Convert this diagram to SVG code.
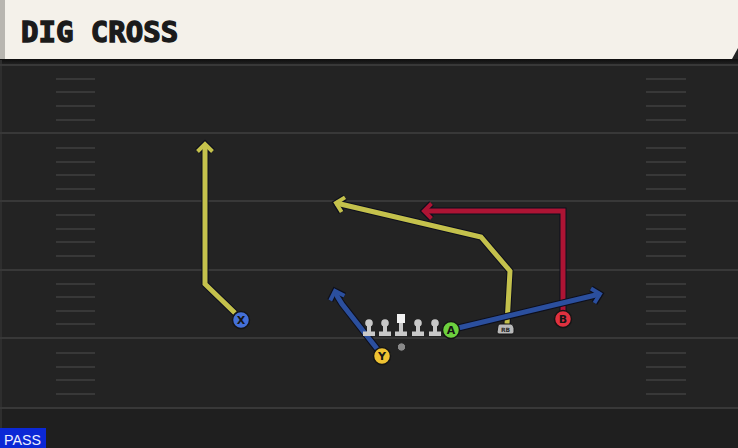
<svg xmlns="http://www.w3.org/2000/svg" width="738" height="448" viewBox="0 0 738 448">
<style>
.yard{stroke:#383838;stroke-width:2}
.hash{stroke:#383838;stroke-width:2}
.out{fill:none;stroke:#0d0f1c;stroke-width:7;stroke-linejoin:miter;stroke-linecap:butt}
.rt{fill:none;stroke-width:5;stroke-linejoin:miter;stroke-linecap:butt}
.yl{stroke:#c4c14c}
.rd{stroke:#ad1434}
.bl{stroke:#2b4f9e}
.pl{stroke:#151515;stroke-width:1.5}
.lbl{font-family:"DejaVu Sans",sans-serif;font-weight:bold;font-size:11px;fill:#151515;text-anchor:middle}
.ol{fill:#c9c9c9}
</style>
<defs>
<marker id="aK" viewBox="-12 -12 24 24" refX="0" refY="0" markerWidth="24" markerHeight="24" markerUnits="userSpaceOnUse" orient="auto"><path d="M-7.5,-7.5 L0,0 L-7.5,7.5" fill="none" stroke="#0d0f1c" stroke-width="6.5" stroke-linejoin="miter"/></marker>
<marker id="aY" viewBox="-12 -12 24 24" refX="0" refY="0" markerWidth="24" markerHeight="24" markerUnits="userSpaceOnUse" orient="auto"><path d="M-7.5,-7.5 L0,0 L-7.5,7.5" fill="none" stroke="#c4c14c" stroke-width="4" stroke-linejoin="miter"/></marker>
<marker id="aR" viewBox="-12 -12 24 24" refX="0" refY="0" markerWidth="24" markerHeight="24" markerUnits="userSpaceOnUse" orient="auto"><path d="M-7.5,-7.5 L0,0 L-7.5,7.5" fill="none" stroke="#ad1434" stroke-width="4" stroke-linejoin="miter"/></marker>
<marker id="aB" viewBox="-12 -12 24 24" refX="0" refY="0" markerWidth="24" markerHeight="24" markerUnits="userSpaceOnUse" orient="auto"><path d="M-7.5,-7.5 L0,0 L-7.5,7.5" fill="none" stroke="#2b4f9e" stroke-width="4" stroke-linejoin="miter"/></marker>
<linearGradient id="sh" x1="0" y1="0" x2="0" y2="1"><stop offset="0" stop-color="#0e0e0e"/><stop offset="1" stop-color="#242424"/></linearGradient>
</defs>

<!-- field -->
<rect x="0" y="0" width="738" height="448" fill="#232323"/>
<rect x="0" y="408" width="738" height="40" fill="#1f1f1f"/>
<rect x="0" y="59" width="738" height="6" fill="url(#sh)"/>
<line x1="1" y1="60" x2="1" y2="448" stroke="#2e2e2e" stroke-width="2"/>
<g id="yardlines">
<line class="yard" x1="0" y1="65" x2="738" y2="65"/>
<line class="yard" x1="0" y1="133" x2="738" y2="133"/>
<line class="yard" x1="0" y1="201" x2="738" y2="201"/>
<line class="yard" x1="0" y1="270" x2="738" y2="270"/>
<line class="yard" x1="0" y1="338" x2="738" y2="338"/>
<line class="yard" x1="0" y1="408" x2="738" y2="408"/>
</g>
<g id="hashes">
<path class="hash" d="M56,79H95M56,92H95M56,106H95M56,120H95M56,148H95M56,162H95M56,175H95M56,189H95M56,215H95M56,229H95M56,242H95M56,256H95M56,284H95M56,297H95M56,311H95M56,324H95M56,353H95M56,367H95M56,380H95M56,394H95"/>
<path class="hash" d="M646,79H686M646,92H686M646,106H686M646,120H686M646,148H686M646,162H686M646,175H686M646,189H686M646,215H686M646,229H686M646,242H686M646,256H686M646,284H686M646,297H686M646,311H686M646,324H686M646,353H686M646,367H686M646,380H686M646,394H686"/>
</g>

<!-- header -->
<g id="header">
<path d="M0,0H738V48L732,59H0Z" fill="#f4f1ea"/>
<rect x="0" y="0" width="5" height="59" fill="#b8b6b0"/>
<text x="21" y="42" font-family="DejaVu Sans Mono, monospace" font-weight="bold" font-size="29" fill="#1b1b1b" stroke="#1b1b1b" stroke-width="1.4" stroke-linejoin="miter">DIG CROSS</text>
</g>

<!-- connectors -->
<g id="routes">
<path class="out" d="M235,313 L205,284 L205,144" marker-end="url(#aK)"/>
<path class="rt yl" d="M235,313 L205,284 L205,144" marker-end="url(#aY)"/>
<path class="out" d="M507,324 L510,271 L481,237 L336,203" marker-end="url(#aK)"/>
<path class="rt yl" d="M507,324 L510,271 L481,237 L336,203" marker-end="url(#aY)"/>
<path class="out" d="M563,312 L563,211 L424,211" marker-end="url(#aK)"/>
<path class="rt rd" d="M563,312 L563,211 L424,211" marker-end="url(#aR)"/>
<path class="out" d="M378,350 L342,304 Q337,297 335,291" marker-end="url(#aK)"/>
<path class="rt bl" d="M378,350 L342,304 Q337,297 335,291" marker-end="url(#aB)"/>
<path class="out" d="M458,328 L600,294" marker-end="url(#aK)"/>
<path class="rt bl" d="M458,328 L600,294" marker-end="url(#aB)"/>
</g>

<!-- linemen -->
<g id="line">
<g id="lt"><circle class="ol" cx="369" cy="323" r="3.8"/><rect class="ol" x="367" y="323" width="4" height="10"/><rect class="ol" x="363" y="331.5" width="12" height="4.5"/></g>
<g id="lg"><circle class="ol" cx="385" cy="323" r="3.8"/><rect class="ol" x="383" y="323" width="4" height="10"/><rect class="ol" x="379" y="331.5" width="12" height="4.5"/></g>
<g id="c"><rect x="397" y="314" width="8" height="9" fill="#f2f2f2"/><rect class="ol" x="399" y="323" width="4" height="10"/><rect class="ol" x="395" y="331.5" width="12" height="4.5"/></g>
<g id="rg"><circle class="ol" cx="418" cy="323" r="3.8"/><rect class="ol" x="416" y="323" width="4" height="10"/><rect class="ol" x="412" y="331.5" width="12" height="4.5"/></g>
<g id="rt"><circle class="ol" cx="435" cy="323" r="3.8"/><rect class="ol" x="433" y="323" width="4" height="10"/><rect class="ol" x="429" y="331.5" width="12" height="4.5"/></g>
</g>
<g id="qb"><circle cx="401.5" cy="347" r="4.2" fill="#8a8a8a" stroke="#1a1a1a" stroke-width="1"/></g>

<!-- players -->
<g id="X"><circle class="pl" cx="241" cy="320" r="8.5" fill="#4470d8"/><text class="lbl" x="241" y="324">X</text></g>
<g id="Y"><circle class="pl" cx="382" cy="356" r="8.5" fill="#eec232"/><text class="lbl" x="382" y="360">Y</text></g>
<g id="A"><circle class="pl" cx="451" cy="330" r="8.5" fill="#6dd13e"/><text class="lbl" x="451" y="334">A</text></g>
<g id="B"><circle class="pl" cx="563" cy="319" r="8.5" fill="#e0313f"/><text class="lbl" x="563" y="323">B</text></g>
<g id="RB"><path d="M498,326 Q498,324 500,324 L511,324 Q513,324 514,328 L514,332 Q514,334 512,334 L499,334 Q497,334 497,332 Z" fill="#b9b9b9" stroke="#151515" stroke-width="1"/><text x="505.5" y="332" font-family="DejaVu Sans, sans-serif" font-weight="bold" font-size="6" fill="#2a2a2a" text-anchor="middle">RB</text></g>

<!-- play type -->
<g id="pass">
<rect x="0" y="428" width="46" height="20" fill="#0b28d6"/>
<text x="4" y="445" font-family="Liberation Sans, sans-serif" font-size="15" fill="#eef0ff" textLength="37" lengthAdjust="spacingAndGlyphs">PASS</text>
</g>
</svg>
